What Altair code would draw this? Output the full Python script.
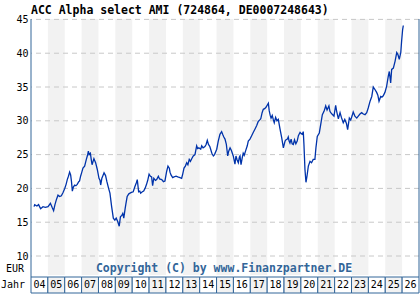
import altair as alt
import pandas as pd

# ---- data ----
t = [2004.18, 2004.22, 2004.35, 2004.45, 2004.57, 2004.71, 2004.85, 2005.01, 2005.15, 2005.25,
     2005.34, 2005.42, 2005.5, 2005.6, 2005.7, 2005.8, 2005.9, 2006.0, 2006.08, 2006.15,
     2006.22, 2006.29, 2006.35, 2006.4, 2006.45, 2006.51, 2006.59, 2006.66, 2006.74, 2006.83,
     2006.88, 2006.94, 2007.0, 2007.08, 2007.18, 2007.28, 2007.35, 2007.4, 2007.45, 2007.52,
     2007.57, 2007.62, 2007.68, 2007.73, 2007.78, 2007.83, 2007.93, 2008.03, 2008.09, 2008.13,
     2008.2, 2008.25, 2008.33, 2008.42, 2008.5, 2008.6, 2008.68, 2008.78, 2008.88, 2008.97,
     2009.05, 2009.14, 2009.23, 2009.3, 2009.38, 2009.44, 2009.5, 2009.58, 2009.63, 2009.7,
     2009.8, 2009.87, 2009.95, 2010.06, 2010.15, 2010.24, 2010.3, 2010.38, 2010.45, 2010.5,
     2010.6, 2010.68, 2010.76, 2010.85, 2010.92, 2011.0, 2011.08, 2011.15, 2011.21, 2011.28,
     2011.38, 2011.45, 2011.55, 2011.62, 2011.75, 2011.85, 2011.94, 2012.04, 2012.12, 2012.2,
     2012.24, 2012.3, 2012.4, 2012.48, 2012.6, 2012.7, 2012.83, 2012.93, 2013.0, 2013.07,
     2013.15, 2013.23, 2013.3, 2013.38, 2013.45, 2013.55, 2013.62, 2013.72, 2013.82, 2013.88,
     2013.95, 2014.06, 2014.12, 2014.2, 2014.31, 2014.38, 2014.45, 2014.52, 2014.6, 2014.65,
     2014.72, 2014.81, 2014.88, 2015.01, 2015.1, 2015.2, 2015.3, 2015.36, 2015.43, 2015.5,
     2015.58, 2015.66, 2015.72, 2015.8, 2015.88, 2015.99, 2016.09, 2016.15, 2016.22, 2016.29,
     2016.35, 2016.39, 2016.45, 2016.52, 2016.58, 2016.64, 2016.74, 2016.82, 2016.88, 2016.98,
     2017.08, 2017.18, 2017.28, 2017.38, 2017.47, 2017.55, 2017.62, 2017.7, 2017.77, 2017.85,
     2017.93, 2018.07, 2018.12, 2018.18, 2018.23, 2018.3, 2018.36, 2018.42, 2018.5, 2018.58,
     2018.66, 2018.76, 2018.86, 2018.96, 2019.06, 2019.12, 2019.2, 2019.25, 2019.3, 2019.35,
     2019.42, 2019.48, 2019.55, 2019.62, 2019.7, 2019.78, 2019.85, 2019.95, 2020.02, 2020.08,
     2020.14, 2020.18, 2020.24, 2020.3, 2020.36, 2020.44, 2020.54, 2020.63, 2020.73, 2020.83,
     2020.89, 2020.97, 2021.09, 2021.17, 2021.27, 2021.37, 2021.47, 2021.55, 2021.66, 2021.72,
     2021.77, 2021.84, 2021.96, 2022.06, 2022.12, 2022.22, 2022.32, 2022.4, 2022.51, 2022.6,
     2022.7, 2022.77, 2022.87, 2022.95, 2023.03, 2023.1, 2023.2, 2023.31, 2023.4, 2023.5,
     2023.6, 2023.7, 2023.8, 2023.9, 2023.99, 2024.1, 2024.2, 2024.29, 2024.37, 2024.49,
     2024.56, 2024.63, 2024.73, 2024.8, 2024.88, 2024.98, 2025.08, 2025.18, 2025.24, 2025.32,
     2025.38, 2025.48, 2025.58, 2025.68, 2025.75, 2025.83, 2025.92, 2025.97, 2026.03, 2026.07]
price = [17.3, 17.6, 17.4, 17.6, 17.0, 17.3, 17.2, 17.3, 17.8, 17.2,
         16.7, 17.6, 18.3, 19.0, 18.8, 18.9, 19.4, 20.0, 20.6, 21.3,
         21.8, 22.4, 22.0, 21.0, 19.6, 20.2, 20.5, 20.4, 20.6, 21.0,
         21.1, 21.8, 22.3, 23.0, 23.3, 24.3, 24.9, 25.5, 25.0, 25.2,
         24.3, 23.5, 24.0, 24.4, 24.1, 23.8, 22.8, 21.5, 21.2, 20.5,
         21.5, 21.8, 22.3, 21.9, 21.0, 20.0, 19.3, 17.3, 15.6, 15.3,
         15.6, 15.1, 14.4, 15.8, 16.0, 16.3, 15.6, 17.0, 17.8, 18.8,
         19.2, 19.3, 19.4, 19.5, 20.2, 20.8, 21.3, 19.5, 19.6, 19.3,
         19.5, 19.6, 20.0, 20.6, 21.2, 22.1, 21.8, 21.7, 20.4, 21.5,
         21.2, 21.3, 21.8, 21.4, 21.3, 21.0, 21.1, 22.5, 23.3, 23.0,
         22.4, 22.0, 21.6, 21.7, 21.8, 21.7, 21.6, 21.5, 22.2, 23.0,
         23.3, 23.8, 23.5, 24.3, 24.0, 24.5, 24.8, 25.0, 26.3, 25.9,
         26.0, 25.8, 26.3, 26.0, 26.2, 26.5, 27.1, 26.5, 26.2, 25.8,
         25.2, 24.8, 25.0, 25.8, 27.0, 28.0, 28.4, 28.0, 27.6, 27.3,
         26.5, 24.8, 25.5, 26.0, 25.6, 24.8, 23.6, 24.8, 24.2, 23.8,
         24.6, 24.8, 23.5, 24.5, 25.2, 24.9, 25.7, 26.3, 27.0, 27.3,
         27.8, 28.3, 28.8, 29.3, 29.9, 30.1, 30.3, 31.2, 31.7, 31.8,
         32.0, 32.6, 31.5, 30.8, 30.4, 30.8, 30.2, 29.7, 30.5, 30.0,
         30.2, 28.8, 27.5, 26.0, 27.0, 27.2, 27.3, 27.6, 27.0, 26.7,
         27.3, 26.6, 26.5, 27.2, 26.6, 27.0, 27.8, 28.3, 28.1, 28.0,
         28.4, 26.5, 22.8, 20.9, 21.8, 23.3, 24.0, 23.8, 24.3, 24.3,
         26.0, 27.7, 28.2, 29.4, 30.9, 31.4, 32.2, 31.6, 32.2, 31.4,
         31.2, 31.0, 30.7, 32.3, 31.4, 30.3, 31.2, 30.5, 29.7, 30.2,
         29.6, 28.7, 30.4, 30.1, 30.7, 31.3, 30.7, 30.4, 30.7, 31.0,
         31.2, 31.0, 30.9, 31.2, 31.9, 32.9, 33.6, 35.0, 34.7, 34.2,
         33.8, 32.9, 33.6, 33.5, 33.7, 34.2, 35.1, 36.6, 37.3, 35.6,
         37.6, 37.8, 38.8, 40.1, 39.8, 39.1, 40.1, 41.8, 43.5, 44.1]
year_start = list(range(2004, 2027))
year_label = ["04", "05", "06", "07", "08", "09", "10", "11", "12", "13", "14", "15",
              "16", "17", "18", "19", "20", "21", "22", "23", "24", "25", "26"]
grid_values = [10, 15, 20, 25, 30, 35, 40, 45]
title_text = "ACC Alpha select AMI (724864, DE0007248643)"
copyright_text = "Copyright (C) by www.Finanzpartner.DE"

W, H = 388, 256
MONO = "DejaVu Sans Mono"
BLUE_BORDER = "#336699"

df = pd.DataFrame({"t": t, "v": price})
yr = pd.DataFrame({"start": year_start, "label": year_label})
yr["end"] = yr["start"] + 1
yr["mid"] = yr["start"] + 0.5
yr["odd"] = yr["start"] % 2 == 1
gd = pd.DataFrame({"g": grid_values})
one = pd.DataFrame({"a": [0]})

xs = alt.Scale(domain=[2004, 2027], nice=False, zero=False)
ys = alt.Scale(domain=[7.19, 45.06], nice=False, zero=False)
yaxis = alt.Axis(values=grid_values, tickCount=8, ticks=False, domain=False, grid=False,
                 labelOverlap=False, labelPadding=3, labelFont=MONO,
                 labelFontSize=10, labelColor="black", title=None)

bands = alt.Chart(yr).transform_filter("datum.odd").mark_rect(color="#f2f2f2").encode(
    x=alt.X("start:Q", scale=xs, axis=None), x2="end:Q")

grid = alt.Chart(gd).mark_rule(color="#c8c8c8", strokeDash=[5, 4], strokeWidth=1).encode(
    y=alt.Y("g:Q", scale=ys, axis=yaxis))

line = alt.Chart(df).mark_line(color="#0033aa", strokeWidth=1.3).encode(
    x=alt.X("t:Q", scale=xs, axis=None),
    y=alt.Y("v:Q", scale=ys, axis=yaxis))

borders = alt.Chart(pd.DataFrame({"bx": [0, W]})).mark_rule(color=BLUE_BORDER, strokeWidth=1).encode(
    x=alt.X("bx:Q", scale=None), y=alt.value(0), y2=alt.value(H + 2))

cells = alt.Chart(yr).mark_rect(stroke=BLUE_BORDER, strokeWidth=1).encode(
    x=alt.X("start:Q", scale=xs, axis=None), x2="end:Q",
    y=alt.value(H + 2), y2=alt.value(H + 18),
    fill=alt.condition("datum.odd", alt.value("#f2f2f2"), alt.value("white")))

cell_text = alt.Chart(yr).mark_text(font=MONO, fontSize=10, color="black", baseline="middle").encode(
    x=alt.X("mid:Q", scale=xs, axis=None), y=alt.value(H + 10), text="label:N")

jahr = alt.Chart(one).mark_text(font=MONO, fontSize=10, color="black", align="right",
                                baseline="middle").encode(
    x=alt.value(-6), y=alt.value(H + 10), text=alt.value("Jahr"))

eur = alt.Chart(one).mark_text(font=MONO, fontSize=10, color="black", align="right",
                               baseline="middle").encode(
    x=alt.value(-7), y=alt.value(H - 6.5), text=alt.value("EUR"))

copy = alt.Chart(one).mark_text(font=MONO, fontSize=11.5, fontWeight="bold", color="#336699",
                                align="center", baseline="middle").encode(
    x=alt.value(193), y=alt.value(H - 6.5), text=alt.value(copyright_text))

chart = alt.layer(bands, grid, line, borders, cells, cell_text, jahr, eur, copy).properties(
    width=W, height=H,
    title=alt.Title(text=title_text, anchor="start", frame="group", font=MONO, fontSize=11.5,
                    fontWeight="bold", color="black", offset=-2),
    autosize=alt.AutoSizeParams(type="none"),
    padding={"left": 31, "top": 19, "right": 1, "bottom": 25},
).configure_view(stroke=None)

chart.save("out.html", embed_options={"renderer": "svg", "actions": False})
